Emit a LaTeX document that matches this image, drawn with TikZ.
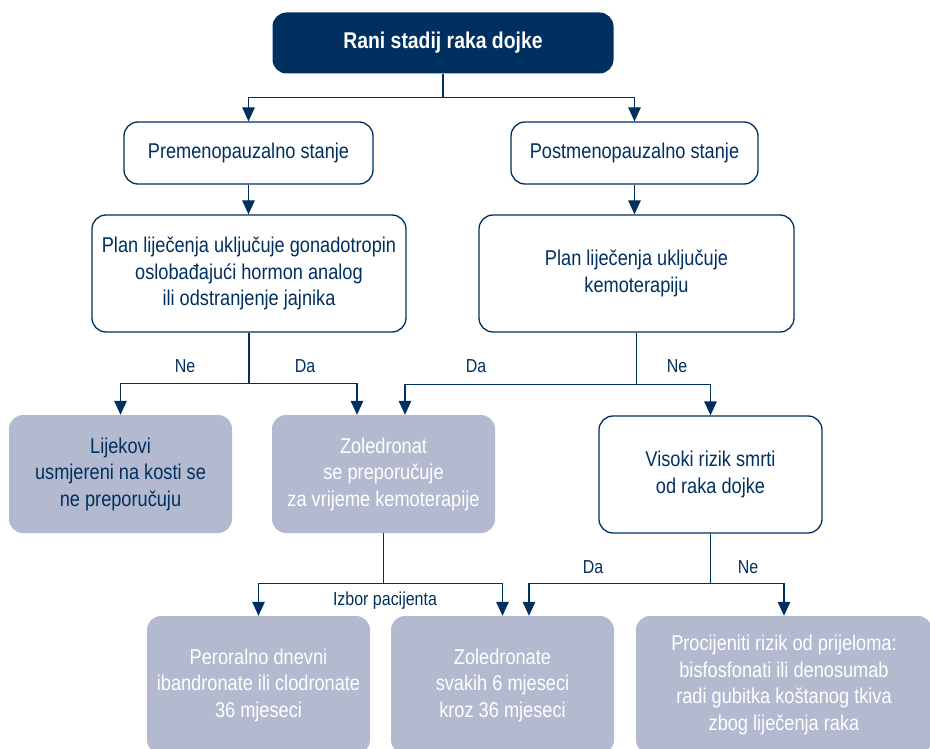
\documentclass[tikz,border=0pt]{standalone}
\usepackage{fontspec}
\setmainfont{Liberation Sans}[FakeStretch=0.85]
\usetikzlibrary{arrows.meta,calc}
\definecolor{navy}{RGB}{0,48,95}
\definecolor{grayblue}{RGB}{179,186,208}
\begin{document}
\begin{tikzpicture}[x=1pt,y=-1pt,
  box/.style={draw=navy, line width=1.3pt, rounded corners=14pt, fill=white, text=navy, align=center, inner sep=0pt, font=\fontsize{21.4}{26.5}\selectfont},
  gbox/.style={fill=grayblue, rounded corners=14pt, text=white, align=center, inner sep=0pt, font=\fontsize{21.4}{26.5}\selectfont},
  topbox/.style={fill=navy, rounded corners=14pt, text=white, align=center, inner sep=0pt, font=\fontsize{22.8}{26.5}\selectfont\bfseries},
  conn/.style={draw=navy, line width=1.3pt},
  arr/.style={conn, -{Triangle[width=12.5pt,length=14pt]}},
  lbl/.style={text=navy, font=\fontsize{18.8}{22}\selectfont, inner sep=0pt}
]
\useasboundingbox (0,0) rectangle (930,749);
\node[topbox, minimum width=341pt, minimum height=61pt] (top) at (443,43) {Rani stadij raka dojke};
\node[box, minimum width=249pt, minimum height=62pt] (pre) at (248.5,153) {Premenopauzalno stanje};
\node[box, minimum width=247pt, minimum height=62pt] (post) at (634.5,153) {Postmenopauzalno stanje};
\node[box, minimum width=314pt, minimum height=117pt] (planL) at (249,273.5) {Plan liječenja uključuje gonadotropin\\oslobađajući hormon analog\\ili odstranjenje jajnika};
\node[box, minimum width=315pt, minimum height=117pt] (planR) at (636.5,273.5) {Plan liječenja uključuje\\kemoterapiju};
\node[gbox, text=navy, minimum width=223pt, minimum height=118pt] (lijek) at (120.5,474) {Lijekovi\\usmjereni na kosti se\\ne preporučuju};
\node[gbox, minimum width=223pt, minimum height=118pt] (zoled) at (383.5,474) {Zoledronat\\se preporučuje\\za vrijeme kemoterapije};
\node[box, minimum width=223pt, minimum height=117pt] (visoki) at (710.5,474.5) {Visoki rizik smrti\\od raka dojke};
\node[gbox, minimum width=223pt, minimum height=138pt] (peroral) at (258.5,685) {Peroralno dnevni\\ibandronate ili clodronate\\36 mjeseci};
\node[gbox, minimum width=223pt, minimum height=138pt] (zolnate) at (502.5,685) {Zoledronate\\svakih 6 mjeseci\\kroz 36 mjeseci};
\node[gbox, minimum width=296pt, minimum height=138pt] (proc) at (784,685) {Procijeniti rizik od prijeloma:\\bisfosfonati ili denosumab\\radi gubitka koštanog tkiva\\zbog liječenja raka};

\draw[conn] (top.south) -- ++(0,24) coordinate (j1);
\draw[arr] (j1) -| (pre.north);
\draw[arr] (j1) -| (post.north);
\draw[arr] (pre.south) -- (pre.south |- planL.north);
\draw[arr] (post.south) -- (post.south |- planR.north);

\draw[conn] (planL.south) -- ++(0,51) coordinate (j3);
\draw[arr] (j3) -| (lijek.north);
\draw[arr] (j3) -| ([xshift=-26.5pt]zoled.north);
\draw[conn] (planR.south) -- ++(0,52) coordinate (j4);
\draw[arr] (j4) -| ([xshift=21.5pt]zoled.north);
\draw[arr] (j4) -| (visoki.north);

\draw[conn] (zoled.south) -- ++(0,50) coordinate (j5);
\draw[arr] (j5) -| (peroral.north);
\draw[arr] (j5) -| (zolnate.north);
\draw[conn] (visoki.south) -- ++(0,50) coordinate (j6);
\draw[arr] (j6) -| ([xshift=26.5pt]zolnate.north);
\draw[arr] (j6) -| (proc.north);

\node[lbl] (l1) at (185,366) {Ne};
\node[lbl] (l2) at (305,366) {Da};
\node[lbl] (l3) at (476,366) {Da};
\node[lbl] (l4) at (677,366) {Ne};
\node[lbl] (l5) at (385,601) {Izbor pacijenta};
\node[lbl] (l6) at (593,567) {Da};
\node[lbl] (l7) at (748,567) {Ne};
\end{tikzpicture}
\end{document}
